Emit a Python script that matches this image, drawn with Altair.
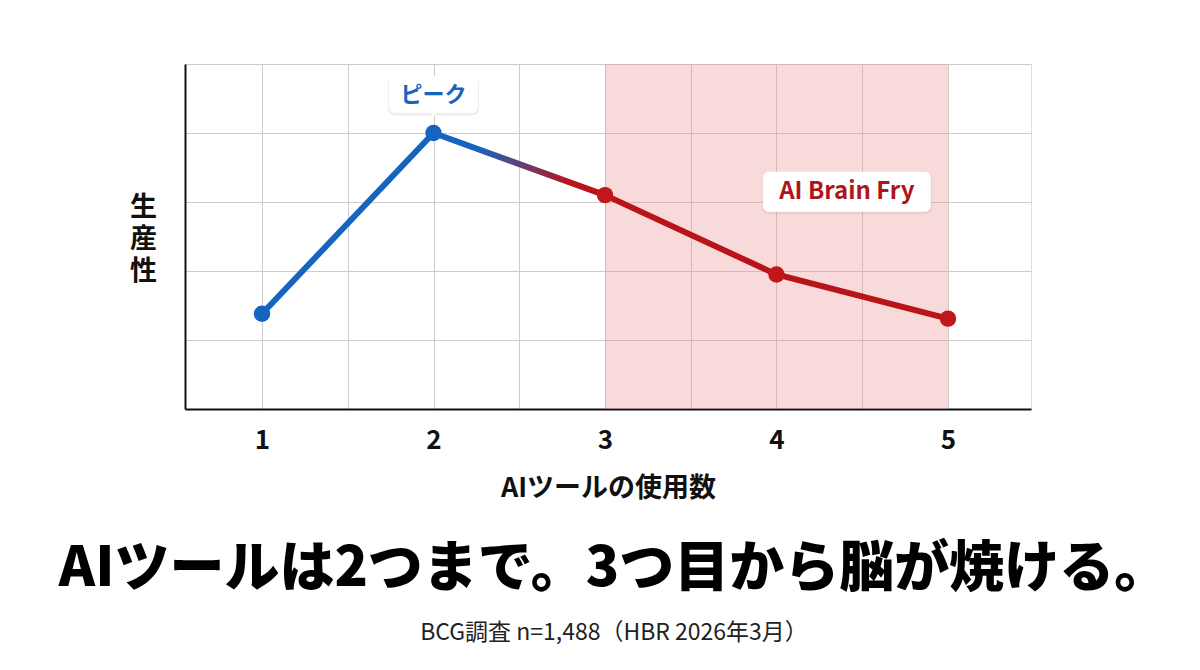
import altair as alt
import pandas as pd

# ---- data ----
tools = [1, 2, 3, 4, 5]
productivity = [1.38, 4.0, 3.1, 1.95, 1.31]
phase = ["safe", "safe", "fry", "fry", "fry"]

band_start = [3]
band_end = [5]

x_grid_values = [1, 1.5, 2, 2.5, 3, 3.5, 4, 4.5, 5]
y_grid_values = [1, 2, 3, 4, 5]

label_fry = ["AI Brain Fry"]
label_fry_x = [4.41]
label_fry_y = [3.15]
label_peak = ["ピーク"]

title_text = "AIツールは2つまで。3つ目から脳が焼ける。"
subtitle_text = "BCG調査 n=1,488（HBR 2026年3月）"
x_title = "AIツールの使用数"
y_title = ["生", "産", "性"]

BLUE = "#1565c0"
RED = "#b8151b"
FONT = "Noto Sans CJK JP"

df = pd.DataFrame({"tools": tools, "prod": productivity, "phase": phase})
seg_blue = df[df["tools"] <= 2]
seg_mid = df[(df["tools"] >= 2) & (df["tools"] <= 3)]
seg_red = df[df["tools"] >= 3]
peak = df[df["prod"] == df["prod"].max()].assign(label=label_peak[0])
band = pd.DataFrame({"start": band_start, "end": band_end})
fry = pd.DataFrame({"x": label_fry_x, "y": label_fry_y, "label": label_fry})

xscale = alt.Scale(domain=[0.551, 5.484], nice=False, zero=False)
yscale = alt.Scale(domain=[0, 5], nice=False)

xaxis = alt.Axis(
    values=x_grid_values,
    labelExpr="datum.value % 1 == 0 ? format(datum.value, 'd') : ''",
    title=x_title,
    grid=True, gridColor="#cccccc", gridWidth=1,
    ticks=False,
    domain=True, domainColor="#111111", domainWidth=2,
    labelFontSize=26, labelFontWeight="bold", labelColor="#111111", labelFont=FONT,
    labelPadding=18,
    titleFontSize=27, titleFontWeight="bold", titleColor="#111111", titleFont=FONT,
    titlePadding=22,
)
yaxis = alt.Axis(
    values=y_grid_values,
    labels=False, ticks=False,
    grid=True, gridColor="#cccccc", gridWidth=1,
    domain=True, domainColor="#111111", domainWidth=2,
    title=y_title, titleAngle=0, titleFontSize=27, titleFontWeight="bold",
    titleColor="#111111", titleFont=FONT, titleLineHeight=32,
    titleAlign="center", titleBaseline="middle", titleX=-42, titleY=143,
)

base_x = alt.X("tools:Q", scale=xscale, axis=xaxis)
base_y = alt.Y("prod:Q", scale=yscale, axis=yaxis)

shade = alt.Chart(band).mark_rect(color="#ec8f8f", opacity=0.33).encode(
    x=alt.X("start:Q", scale=xscale, axis=xaxis),
    x2="end:Q",
)

line_blue = alt.Chart(seg_blue).mark_line(color=BLUE, strokeWidth=6, strokeCap="round").encode(x=base_x, y=base_y)
line_mid = alt.Chart(seg_mid).mark_line(
    strokeWidth=6, strokeCap="round",
    color=alt.Gradient(
        gradient="linear",
        stops=[alt.GradientStop(color=BLUE, offset=0),
               alt.GradientStop(color=BLUE, offset=0.25),
               alt.GradientStop(color=RED, offset=0.8),
               alt.GradientStop(color=RED, offset=1)],
        x1=0, x2=1, y1=0, y2=0,
    ),
).encode(x=base_x, y=base_y)
line_red = alt.Chart(seg_red).mark_line(color=RED, strokeWidth=6, strokeCap="round").encode(x=base_x, y=base_y)

points = alt.Chart(df).mark_circle(size=270, opacity=1).encode(
    x=base_x, y=base_y,
    color=alt.Color("phase:N", scale=alt.Scale(domain=["safe", "fry"], range=[BLUE, "#c0161c"]), legend=None),
)

# peak label box
peak_shadow = alt.Chart(peak).mark_rect(width=91, height=39, cornerRadius=7, color="#000000", opacity=0.07, yOffset=-37).encode(x=base_x, y=base_y)
peak_box = alt.Chart(peak).mark_rect(width=89, height=37, cornerRadius=6, color="#ffffff", yOffset=-38.5).encode(x=base_x, y=base_y)
peak_ptr = alt.Chart(peak).mark_point(shape="triangle-down", filled=True, color="#ffffff", opacity=1, size=40, yOffset=-18).encode(x=base_x, y=base_y)
peak_text = alt.Chart(peak).mark_text(font=FONT, fontSize=22, fontWeight="bold", color=BLUE, yOffset=-38.5, baseline="middle").encode(
    x=base_x, y=base_y, text="label:N")

fx = alt.X("x:Q", scale=xscale, axis=xaxis)
fy = alt.Y("y:Q", scale=yscale, axis=yaxis)
fry_shadow = alt.Chart(fry).mark_rect(width=170, height=42, cornerRadius=7, color="#000000", opacity=0.06, yOffset=1.5).encode(x=fx, y=fy)
fry_box = alt.Chart(fry).mark_rect(width=168, height=40, cornerRadius=6, color="#ffffff").encode(x=fx, y=fy)
fry_text = alt.Chart(fry).mark_text(font=FONT, fontSize=24, fontWeight="bold", color="#b0141b", baseline="middle").encode(
    x=fx, y=fy, text="label:N")

chart = alt.layer(
    shade, line_blue, line_mid, line_red, points,
    peak_shadow, peak_box, peak_ptr, peak_text,
    fry_shadow, fry_box, fry_text,
).properties(
    width=846, height=345,
    autosize=alt.AutoSizeParams(type="none"),
    padding={"left": 177, "top": 56, "right": 140, "bottom": 250},
    title=alt.TitleParams(
        text=title_text, subtitle=subtitle_text,
        orient="bottom", anchor="middle", frame="group", dx=6,
        font=FONT, fontSize=55, fontWeight=900, color="#000000",
        subtitleFont=FONT, subtitleFontSize=23, subtitleColor="#222222",
        subtitlePadding=24, offset=42,
    ),
).configure_view(stroke="#cccccc", strokeWidth=1).configure(background="#ffffff")

chart.save("out.html", embed_options={"renderer": "svg", "actions": False})
